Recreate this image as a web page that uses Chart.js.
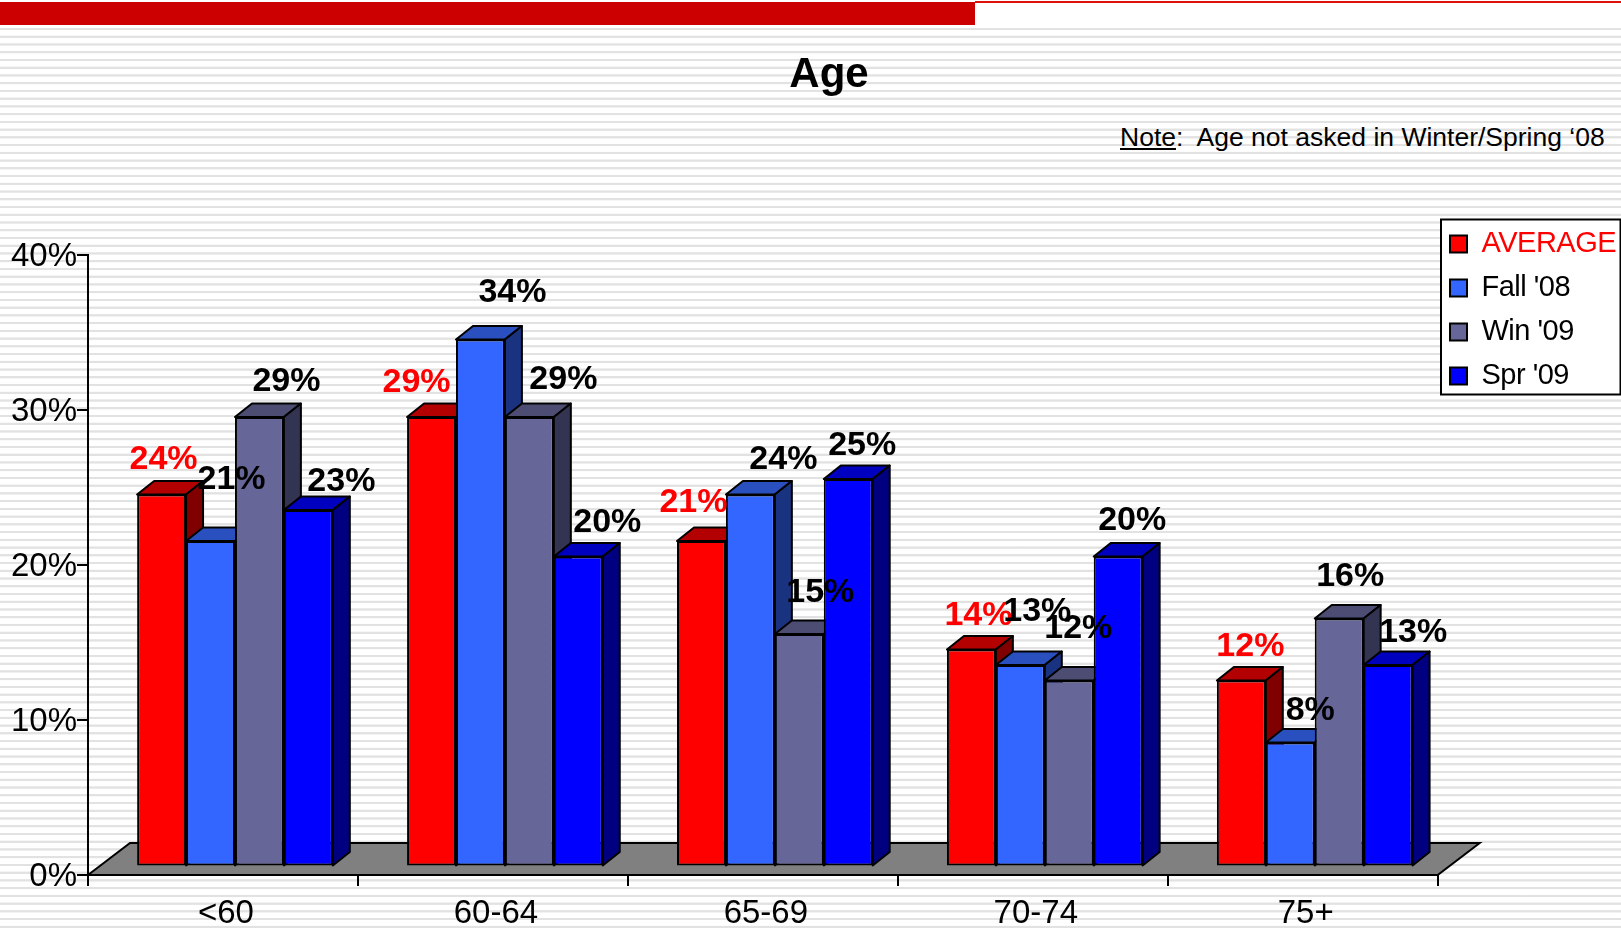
<!DOCTYPE html>
<html><head><meta charset="utf-8">
<script src="https://cdn.jsdelivr.net/npm/chart.js@4"></script>
<style>
html,body{margin:0;padding:0;width:1621px;height:929px;overflow:hidden;background:#fff;}
#stripes{position:absolute;left:0;top:26px;width:1621px;height:903px;
 background:repeating-linear-gradient(180deg,#fff 0,#fff 1.6px,#e2e2e2 2.2px,#e2e2e2 3.8px,#fff 4.4px,#fff 7.74px);}
#bar{position:absolute;left:0;top:2px;width:975px;height:23px;background:#cc0000;}
#line{position:absolute;left:975px;top:1px;width:646px;height:2px;background:#e01010;}
#note{position:absolute;left:1120px;top:122px;font:26.5px/30px "Liberation Sans",Arial,sans-serif;color:#000;white-space:pre;}
canvas{position:absolute;left:0;top:0;}
</style></head>
<body>
<div id="stripes"></div><div id="bar"></div><div id="line"></div>
<div id="note"><u>Note</u>:  Age not asked in Winter/Spring ‘08</div>
<canvas id="c" width="1621" height="929"></canvas>
<script>
const categories = ['<60','60-64','65-69','70-74','75+'];
const seriesNames = ['AVERAGE',"Fall '08","Win '09","Spr '09"];
const average = [24,29,21,14,12];
const fall08  = [21,34,24,13,8];
const win09   = [29,29,15,12,16];
const spr09   = [23,20,25,20,13];
const seriesValues = [average, fall08, win09, spr09];

// Styling
const FONT = '"Liberation Sans", Arial, sans-serif';
const faceColors = ['#ff0000','#3366ff','#666699','#0000ff'];
const topColors  = ['#b30000','#2a50bf','#4d4d73','#0000bf'];
const sideColors = ['#800000','#1a3380','#333352','#000080'];
const labelColors = ['#ff0000','#000000','#000000','#000000'];
// Label placement relative to the top centre of each bar's front face
const labelNudgeX = [[2,-15,-8,7,9],[21,32,33,17,20],[27,34,21,9,11],[33,29,14,14,25]];
const labelNudgeY = [[-35,-34,-38,-34,-34],[-61,-47,-35,-53,-32],[-35,-37,-41,-52,-42],[-28,-34,-33,-36,-32]];
const FRONT_DX = 12, FRONT_DY = -8.5;   // front plane of bars relative to the axis plane
const DEPTH_DX = 17, DEPTH_DY = -13.5;  // bar depth
const FLOOR_DX = 42, FLOOR_DY = -32;    // floor depth

const depthPlugin = {
  id:'depth',
  afterLayout(chart){
    const t = chart.titleBlock;
    t.left = 37; t.right = 1621;
    const l = chart.legend;
    const w = l.width, h = l.height;
    l.left = 1435; l.right = 1435 + w; l.top = 214.5; l.bottom = 214.5 + h;
    l.adjustHitBoxes();
    if (!l._tight) {
      l._tight = true;
      const draw = l.draw;
      l.draw = function(){
        chart.ctx.letterSpacing = '-0.5px';
        draw.call(l);
        chart.ctx.letterSpacing = '0px';
      };
    }
  },
  beforeDraw(chart){
    const ctx = chart.ctx, x = chart.scales.x, y = chart.scales.y;
    const y0 = y.getPixelForValue(0);
    ctx.save();
    ctx.lineWidth = 2; ctx.strokeStyle = '#000'; ctx.fillStyle = '#808080';
    ctx.beginPath();
    ctx.moveTo(x.left,y0);
    ctx.lineTo(x.left+FLOOR_DX,y0+FLOOR_DY);
    ctx.lineTo(x.right+FLOOR_DX,y0+FLOOR_DY);
    ctx.lineTo(x.right,y0);
    ctx.closePath(); ctx.fill(); ctx.stroke();
    // legend frame
    ctx.fillStyle = '#fff';
    ctx.fillRect(1441,219.5,179.5,175);
    ctx.strokeRect(1441,219.5,179.5,175);
    ctx.restore();
  },
  beforeDatasetsDraw(chart){
    const ctx = chart.ctx;
    ctx.save();
    ctx.translate(FRONT_DX,FRONT_DY);
    ctx.lineWidth = 2; ctx.strokeStyle = '#000'; ctx.lineJoin = 'round';
    // top and side faces, left to right; the library then draws the front faces over them
    categories.forEach((c,j)=>{
      seriesNames.forEach((n,i)=>{
        const el = chart.getDatasetMeta(i).data[j];
        const {x,y,base,width} = el.getProps(['x','y','base','width'],true);
        const l = x-width/2, r = x+width/2;
        ctx.fillStyle = topColors[i];
        ctx.beginPath();
        ctx.moveTo(l,y); ctx.lineTo(l+DEPTH_DX,y+DEPTH_DY);
        ctx.lineTo(r+DEPTH_DX,y+DEPTH_DY); ctx.lineTo(r,y);
        ctx.closePath(); ctx.fill(); ctx.stroke();
        ctx.fillStyle = sideColors[i];
        ctx.beginPath();
        ctx.moveTo(r,y); ctx.lineTo(r+DEPTH_DX,y+DEPTH_DY);
        ctx.lineTo(r+DEPTH_DX,base+DEPTH_DY); ctx.lineTo(r,base);
        ctx.closePath(); ctx.fill(); ctx.stroke();
      });
    });
  },
  afterDatasetsDraw(chart){
    const ctx = chart.ctx;
    ctx.restore();
    ctx.save();
    ctx.font = 'bold 34px '+FONT;
    ctx.textAlign = 'center'; ctx.textBaseline = 'middle';
    chart.data.datasets.forEach((ds,i)=>{
      chart.getDatasetMeta(i).data.forEach((el,j)=>{
        ctx.fillStyle = labelColors[i];
        ctx.fillText(ds.data[j]+'%', el.x+FRONT_DX+labelNudgeX[i][j], el.y+FRONT_DY+labelNudgeY[i][j]);
      });
    });
    ctx.restore();
  }
};

new Chart(document.getElementById('c'),{
  type:'bar',
  data:{
    labels:categories,
    datasets:seriesNames.map((name,i)=>({
      label:name,
      data:seriesValues[i],
      backgroundColor:faceColors[i],
      borderColor:'#000',
      borderWidth:2,
      borderSkipped:false,
      clip:false,
      categoryPercentage:0.725,
      barPercentage:1
    }))
  },
  options:{
    responsive:false,animation:false,
    layout:{padding:{left:0,right:183.3,top:0,bottom:0}},
    plugins:{
      tooltip:{enabled:false},
      title:{display:true,text:'Age',color:'#000',
        font:{family:FONT,size:42,weight:'bold',lineHeight:1.2},
        padding:{top:50,bottom:154.6}},
      legend:{display:true,position:'chartArea',align:'start',
        labels:{
          font:{family:FONT,size:29},boxWidth:17,boxHeight:17,padding:15,
          generateLabels(chart){
            return chart.data.datasets.map((d,i)=>({
              text:d.label,fillStyle:faceColors[i],strokeStyle:'#000',lineWidth:2,
              fontColor:labelColors[i],datasetIndex:i,hidden:false
            }));
          }
        }
      }
    },
    scales:{
      x:{
        grid:{display:true,offset:true,drawOnChartArea:false,color:'#000',tickLength:11,lineWidth:2},
        border:{display:true,color:'#000',width:2},
        ticks:{color:'#000',font:{family:FONT,size:33},padding:8,labelOffset:3,maxRotation:0,autoSkip:false},
        afterFit(s){s.height=54;}
      },
      y:{
        min:0,max:40,
        grid:{display:true,drawOnChartArea:false,color:'#000',tickLength:11,lineWidth:2},
        border:{display:true,color:'#000',width:2},
        ticks:{stepSize:10,color:'#000',font:{family:FONT,size:33},padding:0,labelOffset:2,callback:v=>v+'%'},
        afterFit(s){s.width=88;}
      }
    }
  },
  plugins:[depthPlugin]
});
</script>
</body></html>
